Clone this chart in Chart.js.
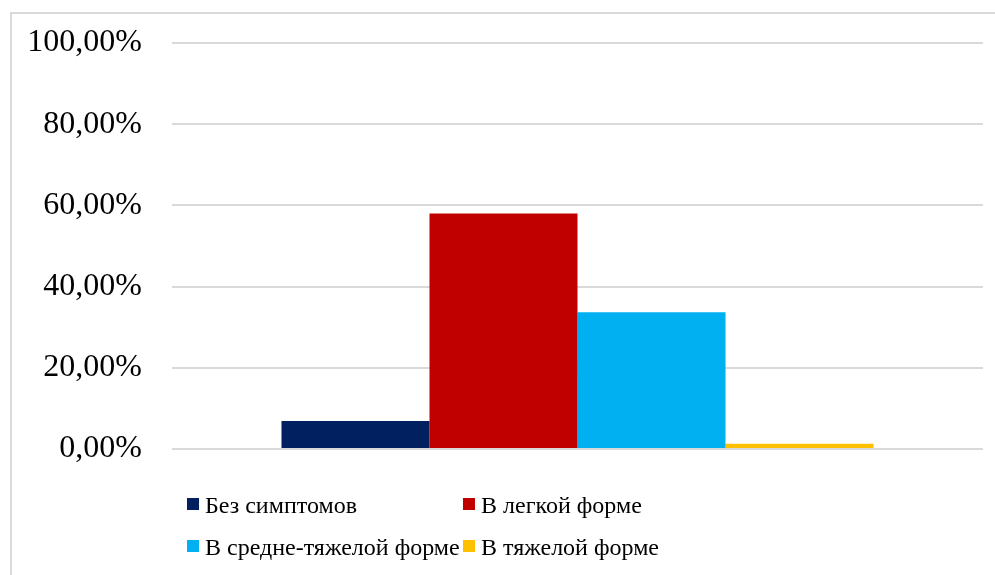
<!DOCTYPE html>
<html>
<head>
<meta charset="utf-8">
<script src="https://cdn.jsdelivr.net/npm/chart.js@4.4.1/dist/chart.umd.min.js"></script>
<style>
  html, body { margin: 0; padding: 0; background: #fff; }
  #wrap { position: relative; width: 995px; height: 575px; }
</style>
</head>
<body>
<div id="wrap"><canvas id="chart" width="995" height="575"></canvas></div>
<script>
// data
const categories = [''];
const seriesNames = ['Без симптомов', 'В легкой форме', 'В средне-тяжелой форме', 'В тяжелой форме'];
const seriesValues = [[6.9], [58.0], [33.7], [1.3]];
const seriesColors = ['#002060', '#C00000', '#00B0F0', '#FFC000'];
const yTicks = [0, 20, 40, 60, 80, 100];

const FONT = '"Liberation Serif", "Times New Roman", serif';

// frame around the chart (top + left edges only are visible)
const framePlugin = {
    id: 'frame',
    beforeDraw(chart) {
        const c = chart.ctx;
        c.save();
        c.strokeStyle = '#d9d9d9';
        c.lineWidth = 2;
        c.beginPath();
        c.moveTo(11, chart.height);
        c.lineTo(11, 13);
        c.lineTo(chart.width, 13);
        c.stroke();
        c.restore();
    }
};

// legend laid out in two fixed columns like the original
const gridLegend = {
    id: 'gridLegend',
    afterDraw(chart) {
        const c = chart.ctx;
        const cols = [187, 463];
        const rows = [513, 555];
        c.save();
        c.font = '24px ' + FONT;
        c.textBaseline = 'alphabetic';
        chart.data.datasets.forEach((ds, i) => {
            const x = cols[i % 2];
            const y = rows[Math.floor(i / 2)];
            c.fillStyle = ds.backgroundColor;
            c.fillRect(x, y - 15, 12, 12);
            c.fillStyle = '#000';
            c.fillText(ds.label, x + 18, y);
        });
        c.restore();
    }
};

const ctx = document.getElementById('chart');
new Chart(ctx, {
    type: 'bar',
    data: {
        labels: categories,
        datasets: seriesNames.map((name, i) => ({
            label: name,
            data: seriesValues[i],
            backgroundColor: seriesColors[i],
            borderWidth: 0,
            categoryPercentage: 0.73,
            barPercentage: 1
        }))
    },
    options: {
        responsive: false,
        animation: false,
        layout: { padding: { left: 0, right: 12, top: 43, bottom: 126 } },
        plugins: {
            legend: { display: false },
            tooltip: { enabled: false }
        },
        scales: {
            x: {
                display: false
            },
            y: {
                min: 0,
                max: 100,
                afterBuildTicks(scale) {
                    scale.ticks = yTicks.map(v => ({ value: v }));
                },
                afterFit(scale) {
                    scale.width = 172;
                    scale.paddingTop = 0;
                    scale.paddingBottom = 0;
                },
                border: { display: false },
                grid: { color: '#d9d9d9', lineWidth: 2, drawTicks: false },
                ticks: {
                    padding: 30,
                    color: '#000',
                    font: { family: FONT, size: 32 },
                    callback: v => v.toFixed(2).replace('.', ',') + '%'
                }
            }
        }
    },
    plugins: [framePlugin, gridLegend]
});
</script>
</body>
</html>
